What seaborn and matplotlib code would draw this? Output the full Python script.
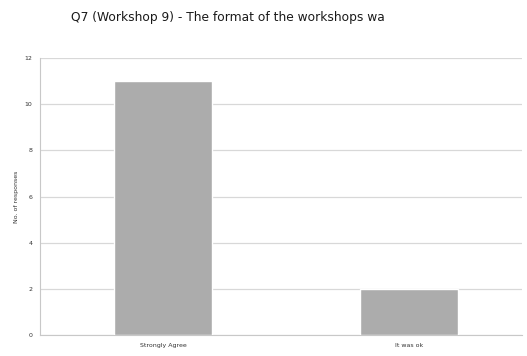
import matplotlib
matplotlib.use("Agg")
import matplotlib.pyplot as plt
import seaborn as sns

# Chart data
categories = ["Strongly Agree", "It was ok"]
responses = [11, 2]

sns.set_style("white")
plt.rcParams['font.family'] = ['DejaVu Sans']

fig = plt.figure(figsize=(5.27, 3.56), dpi=100)
ax = fig.add_axes([0.076, 0.059, 0.914, 0.778])

sns.barplot(x=categories, y=responses, color="#acacac", width=0.4,
            saturation=1, ax=ax, zorder=3)

ax.set_ylim(0, 12)
ax.set_xlim(-0.5, 1.46)
ax.set_yticks(range(0, 13, 2))
ax.yaxis.grid(True, color="#d8d8d8", linewidth=0.9, zorder=0)
ax.set_axisbelow(True)

for side in ["top", "right"]:
    ax.spines[side].set_visible(False)
ax.spines["left"].set_color("#c8c8c8")
ax.spines["bottom"].set_color("#c8c8c8")

ax.tick_params(axis="both", labelsize=4.5, colors="#333333", length=2,
               color="#c8c8c8", width=0.6)
ax.set_ylabel("No. of responses", fontsize=4.5, color="#333333")
ax.set_xlabel("")

fig.text(0.433, 0.952, "Q7 (Workshop 9) - The format of the workshops wa",
         fontsize=8.8, ha="center", va="center", color="#1a1a1a")

fig.savefig("out.png", dpi=100)
